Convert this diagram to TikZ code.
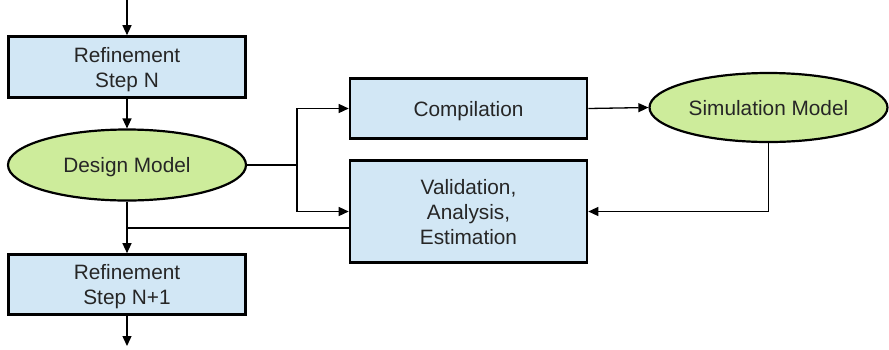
\documentclass[tikz,border=0pt]{standalone}
\usepackage{fontspec}
\setmainfont{Liberation Sans}
\usetikzlibrary{arrows.meta,shapes.geometric}
\definecolor{boxblue}{HTML}{D2E7F5}
\definecolor{modelgreen}{HTML}{CDEC9B}
\definecolor{textgray}{HTML}{262626}
\begin{document}
\begin{tikzpicture}[x=1pt,y=-1pt,
  stepbox/.style={draw=black,line width=2.6pt,fill=boxblue,rectangle,
    minimum width=237pt,align=center,text=textgray,text depth=0pt,
    font=\fontsize{20.8}{25}\selectfont},
  modelnode/.style={draw=black,line width=2.2pt,fill=modelgreen,ellipse,
    minimum width=238pt,inner sep=0pt,text=textgray,text depth=0pt,
    font=\fontsize{20.8}{25}\selectfont},
  conn/.style={line width=1.3pt},
  arr/.style={conn,-{Triangle[length=10pt,width=9pt]}}]
\useasboundingbox (0,0) rectangle (889,349);

% process steps
\node[stepbox,minimum height=61pt] (rN) at (127,67) {Refinement\\Step N};
\node[modelnode,minimum height=71pt] (dm) at (127,165) {Design Model};
\node[stepbox,minimum height=60pt] (comp) at (468.5,108.5) {Compilation};
\node[stepbox,minimum height=102pt] (val) at (468.5,211.5) {Validation,\\Analysis,\\Estimation};
\node[modelnode,minimum height=69pt] (sim) at (768.5,107.5) {Simulation Model};
\node[stepbox,minimum height=60pt] (rN1) at (127,284.5) {Refinement\\Step N+1};

% free ends and junctions
\coordinate (in) at (127,0);
\coordinate (out) at (127,346);
\coordinate (fork) at (297,165);
\coordinate (valout) at (349,228);
\coordinate (join) at (127,228);

% connectors
\draw[arr] (in) -- (rN.north);
\draw[arr] (rN.south) -- (dm.north);
\draw[conn] (dm.east) -- (fork);
\draw[arr] (fork) |- (comp.west);
\draw[arr] (fork) |- (val.west);
\draw[arr] (comp.east) -- (sim.west);
\draw[arr] (sim.south) |- (val.east);
\draw[arr] (dm.south) -- (rN1.north);
\draw[conn] (valout) -- (join);
\draw[arr] (rN1.south) -- (out);
\end{tikzpicture}
\end{document}
